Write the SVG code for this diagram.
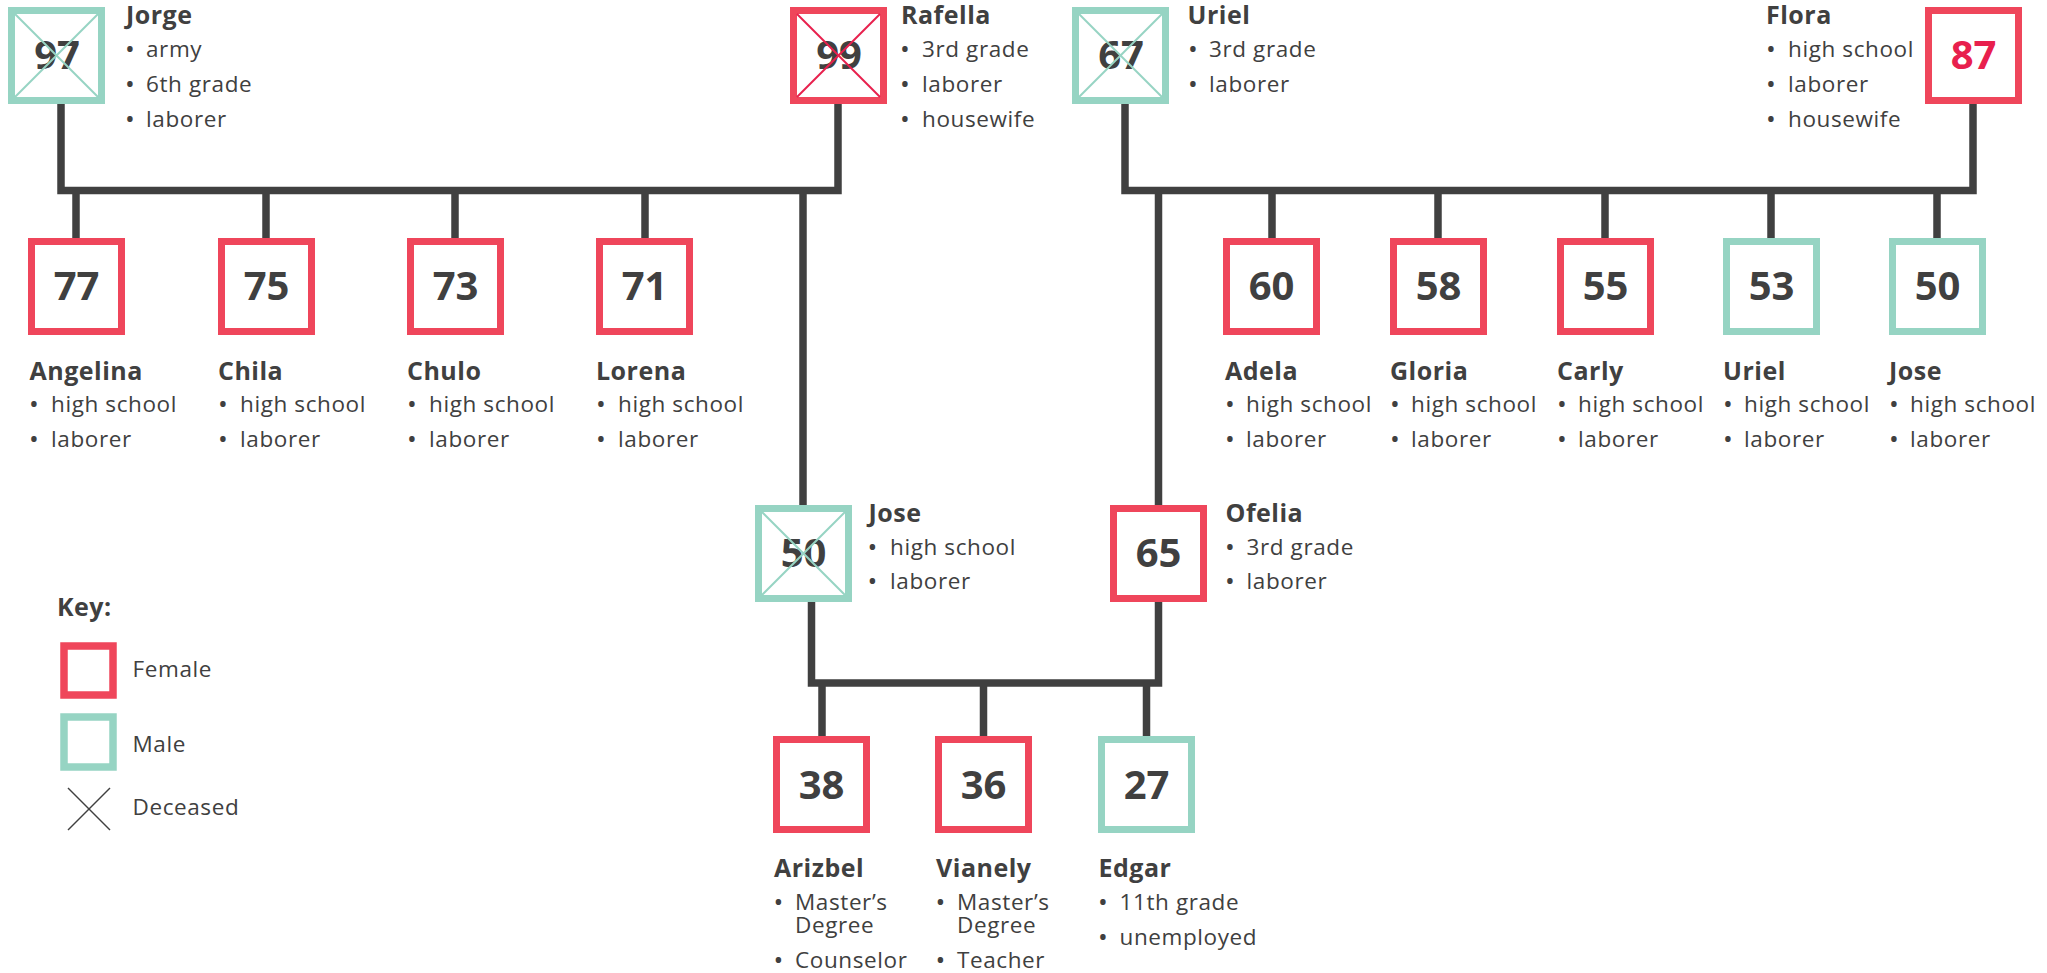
<svg xmlns="http://www.w3.org/2000/svg" width="2047" height="973" viewBox="0 0 2047 973">
<style>
.f{fill:#fff;stroke:#EF465B;stroke-width:7}
.m{fill:#fff;stroke:#96D4C3;stroke-width:7}
.xf{stroke:#E8204D;stroke-width:2}
.xm{stroke:#96D4C3;stroke-width:2}
.num{font-family:"Open Sans","Liberation Sans",sans-serif;font-weight:700;font-size:40px;fill:#404040;text-anchor:middle}
.red{fill:#E8204D}
.nm{font-family:"Open Sans","Liberation Sans",sans-serif;font-weight:700;font-size:25px;fill:#404040;letter-spacing:0.5px}
.tx{font-family:"Open Sans","Liberation Sans",sans-serif;font-weight:400;font-size:22.5px;fill:#404040;letter-spacing:0.6px}
.bu{font-family:"Open Sans","Liberation Sans",sans-serif;font-size:26px;fill:#404040;text-anchor:middle}
.con{fill:none;stroke:#404040;stroke-width:7.5;stroke-linejoin:miter;stroke-linecap:butt}
.kx{stroke:#404040;stroke-width:1.5}
</style>

<g id="connectors" class="con">
  <path d="M61,104 V190.5 H838 V104"/>
  <path d="M76,190.5 V238 M266,190.5 V238 M455,190.5 V238 M645,190.5 V238"/>
  <path d="M803,190.5 V505"/>
  <path d="M1125,104 V190.5 H1973 V104"/>
  <path d="M1272,190.5 V238 M1438,190.5 V238 M1605,190.5 V238 M1771,190.5 V238 M1937,190.5 V238"/>
  <path d="M1158.5,190.5 V505"/>
  <path d="M811.5,602 V683 H1158.5 V602"/>
  <path d="M822,683 V736 M983.5,683 V736 M1146.5,683 V736"/>
</g>

<g id="node-jorge">
  <rect class="m" x="11.5" y="10.5" width="90" height="90"/>
  <text class="num" x="57" y="69">97</text>
  <line class="xm" x1="15" y1="14" x2="98" y2="97"/><line class="xm" x1="98" y1="14" x2="15" y2="97"/>
  <text class="nm" x="126" y="24">Jorge</text>
  <text class="bu" x="130" y="58">•</text><text class="tx" x="146" y="57">army</text>
  <text class="bu" x="130" y="93">•</text><text class="tx" x="146" y="92">6th grade</text>
  <text class="bu" x="130" y="128">•</text><text class="tx" x="146" y="127">laborer</text>
</g>

<g id="node-rafella">
  <rect class="f" x="793.5" y="10.5" width="90" height="90"/>
  <text class="num" x="839" y="69">99</text>
  <line class="xf" x1="797" y1="14" x2="880" y2="97"/><line class="xf" x1="880" y1="14" x2="797" y2="97"/>
  <text class="nm" x="901" y="24">Rafella</text>
  <text class="bu" x="905" y="58">•</text><text class="tx" x="922" y="57">3rd grade</text>
  <text class="bu" x="905" y="93">•</text><text class="tx" x="922" y="92">laborer</text>
  <text class="bu" x="905" y="128">•</text><text class="tx" x="922" y="127">housewife</text>
</g>

<g id="node-uriel-sr">
  <rect class="m" x="1075.5" y="10.5" width="90" height="90"/>
  <text class="num" x="1121" y="69">67</text>
  <line class="xm" x1="1079" y1="14" x2="1162" y2="97"/><line class="xm" x1="1162" y1="14" x2="1079" y2="97"/>
  <text class="nm" x="1187.5" y="24">Uriel</text>
  <text class="bu" x="1193" y="58">•</text><text class="tx" x="1209" y="57">3rd grade</text>
  <text class="bu" x="1193" y="93">•</text><text class="tx" x="1209" y="92">laborer</text>
</g>

<g id="node-flora">
  <rect class="f" x="1928.5" y="10.5" width="90" height="90"/>
  <text class="num red" x="1973.5" y="69">87</text>
  <text class="nm" x="1766" y="24">Flora</text>
  <text class="bu" x="1771" y="58">•</text><text class="tx" x="1788" y="57">high school</text>
  <text class="bu" x="1771" y="93">•</text><text class="tx" x="1788" y="92">laborer</text>
  <text class="bu" x="1771" y="128">•</text><text class="tx" x="1788" y="127">housewife</text>
</g>

<g id="node-angelina">
  <rect class="f" x="31.5" y="241.5" width="90" height="90"/>
  <text class="num" x="76.5" y="300">77</text>
  <text class="nm" x="29.5" y="380">Angelina</text>
  <text class="bu" x="34" y="413">•</text><text class="tx" x="51" y="412">high school</text>
  <text class="bu" x="34" y="448">•</text><text class="tx" x="51" y="447">laborer</text>
</g>

<g id="node-chila">
  <rect class="f" x="221.5" y="241.5" width="90" height="90"/>
  <text class="num" x="266.5" y="300">75</text>
  <text class="nm" x="218" y="380">Chila</text>
  <text class="bu" x="223" y="413">•</text><text class="tx" x="240" y="412">high school</text>
  <text class="bu" x="223" y="448">•</text><text class="tx" x="240" y="447">laborer</text>
</g>

<g id="node-chulo">
  <rect class="f" x="410.5" y="241.5" width="90" height="90"/>
  <text class="num" x="455.5" y="300">73</text>
  <text class="nm" x="407" y="380">Chulo</text>
  <text class="bu" x="412" y="413">•</text><text class="tx" x="429" y="412">high school</text>
  <text class="bu" x="412" y="448">•</text><text class="tx" x="429" y="447">laborer</text>
</g>

<g id="node-lorena">
  <rect class="f" x="599.5" y="241.5" width="90" height="90"/>
  <text class="num" x="644.5" y="300">71</text>
  <text class="nm" x="596" y="380">Lorena</text>
  <text class="bu" x="601" y="413">•</text><text class="tx" x="618" y="412">high school</text>
  <text class="bu" x="601" y="448">•</text><text class="tx" x="618" y="447">laborer</text>
</g>

<g id="node-adela">
  <rect class="f" x="1226.5" y="241.5" width="90" height="90"/>
  <text class="num" x="1271.5" y="300">60</text>
  <text class="nm" x="1225" y="380">Adela</text>
  <text class="bu" x="1230" y="413">•</text><text class="tx" x="1246" y="412">high school</text>
  <text class="bu" x="1230" y="448">•</text><text class="tx" x="1246" y="447">laborer</text>
</g>

<g id="node-gloria">
  <rect class="f" x="1393.5" y="241.5" width="90" height="90"/>
  <text class="num" x="1438.5" y="300">58</text>
  <text class="nm" x="1390" y="380">Gloria</text>
  <text class="bu" x="1395" y="413">•</text><text class="tx" x="1411" y="412">high school</text>
  <text class="bu" x="1395" y="448">•</text><text class="tx" x="1411" y="447">laborer</text>
</g>

<g id="node-carly">
  <rect class="f" x="1560.5" y="241.5" width="90" height="90"/>
  <text class="num" x="1605.5" y="300">55</text>
  <text class="nm" x="1557" y="380">Carly</text>
  <text class="bu" x="1562" y="413">•</text><text class="tx" x="1578" y="412">high school</text>
  <text class="bu" x="1562" y="448">•</text><text class="tx" x="1578" y="447">laborer</text>
</g>

<g id="node-uriel-jr">
  <rect class="m" x="1726.5" y="241.5" width="90" height="90"/>
  <text class="num" x="1771.5" y="300">53</text>
  <text class="nm" x="1723" y="380">Uriel</text>
  <text class="bu" x="1728" y="413">•</text><text class="tx" x="1744" y="412">high school</text>
  <text class="bu" x="1728" y="448">•</text><text class="tx" x="1744" y="447">laborer</text>
</g>

<g id="node-jose-uncle">
  <rect class="m" x="1892.5" y="241.5" width="90" height="90"/>
  <text class="num" x="1937.5" y="300">50</text>
  <text class="nm" x="1889" y="380">Jose</text>
  <text class="bu" x="1894" y="413">•</text><text class="tx" x="1910" y="412">high school</text>
  <text class="bu" x="1894" y="448">•</text><text class="tx" x="1910" y="447">laborer</text>
</g>

<g id="node-jose">
  <rect class="m" x="758.5" y="508.5" width="90" height="90"/>
  <text class="num" x="803.5" y="567">50</text>
  <line class="xm" x1="762" y1="512" x2="845" y2="595"/><line class="xm" x1="845" y1="512" x2="762" y2="595"/>
  <text class="nm" x="868.5" y="522">Jose</text>
  <text class="bu" x="872.5" y="556">•</text><text class="tx" x="890" y="555">high school</text>
  <text class="bu" x="872.5" y="590">•</text><text class="tx" x="890" y="589">laborer</text>
</g>

<g id="node-ofelia">
  <rect class="f" x="1113.5" y="508.5" width="90" height="90"/>
  <text class="num" x="1158.5" y="567">65</text>
  <text class="nm" x="1225.5" y="522">Ofelia</text>
  <text class="bu" x="1230" y="556">•</text><text class="tx" x="1246.5" y="555">3rd grade</text>
  <text class="bu" x="1230" y="590">•</text><text class="tx" x="1246.5" y="589">laborer</text>
</g>

<g id="node-arizbel">
  <rect class="f" x="776.5" y="739.5" width="90" height="90"/>
  <text class="num" x="821.5" y="799">38</text>
  <text class="nm" x="774" y="877">Arizbel</text>
  <text class="bu" x="778.5" y="911">•</text><text class="tx" x="795" y="910">Master’s<tspan x="795" y="933">Degree</tspan></text>
  <text class="bu" x="778.5" y="969">•</text><text class="tx" x="795" y="968">Counselor</text>
</g>

<g id="node-vianely">
  <rect class="f" x="938.5" y="739.5" width="90" height="90"/>
  <text class="num" x="983.5" y="799">36</text>
  <text class="nm" x="936" y="877">Vianely</text>
  <text class="bu" x="940.5" y="911">•</text><text class="tx" x="957" y="910">Master’s<tspan x="957" y="933">Degree</tspan></text>
  <text class="bu" x="940.5" y="969">•</text><text class="tx" x="957" y="968">Teacher</text>
</g>

<g id="node-edgar">
  <rect class="m" x="1101.5" y="739.5" width="90" height="90"/>
  <text class="num" x="1146.5" y="799">27</text>
  <text class="nm" x="1098.5" y="877">Edgar</text>
  <text class="bu" x="1103" y="911">•</text><text class="tx" x="1119.5" y="910">11th grade</text>
  <text class="bu" x="1103" y="946">•</text><text class="tx" x="1119.5" y="945">unemployed</text>
</g>

<g id="key">
  <text class="nm" x="57" y="616">Key:</text>
  <rect class="f" x="64" y="646" width="49" height="49" style="stroke-width:7.5"/>
  <text class="tx" x="132.5" y="677">Female</text>
  <rect class="m" x="64" y="717" width="49" height="50" style="stroke-width:7.5"/>
  <text class="tx" x="132.5" y="752">Male</text>
  <line class="kx" x1="68" y1="788" x2="110" y2="830"/>
  <line class="kx" x1="110" y1="788" x2="68" y2="830"/>
  <text class="tx" x="132.5" y="815">Deceased</text>
</g>
</svg>
